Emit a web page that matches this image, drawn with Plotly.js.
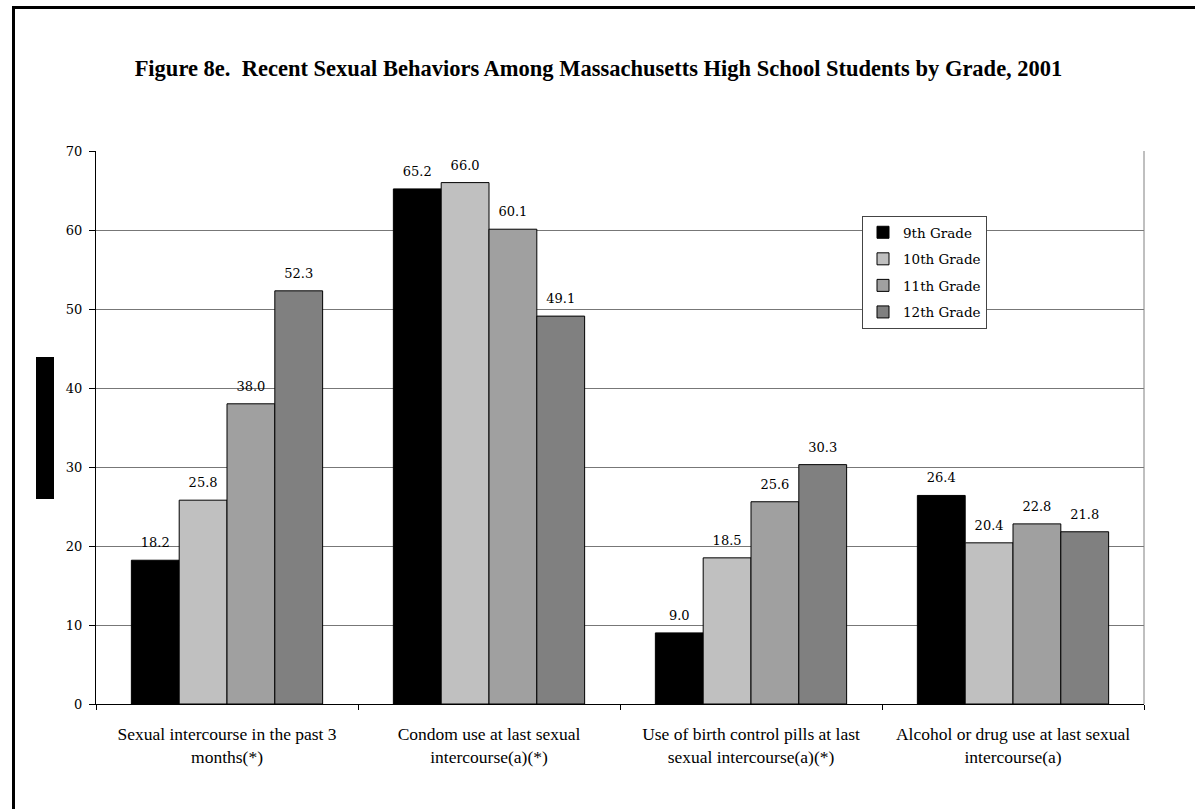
<!DOCTYPE html>
<html>
<head>
<meta charset="utf-8">
<script src="https://cdn.plot.ly/plotly-3.0.1.min.js"></script>
<style>
  html, body { margin: 0; padding: 0; background: #fff; }
  #wrap { position: relative; width: 1195px; height: 809px; overflow: hidden; }
  #chart { width: 1195px; height: 809px; }
  #frame { position: absolute; left: 12px; top: 6px; width: 1300px; height: 900px;
           border-left: 3px solid #000; border-top: 3px solid #000; pointer-events: none; }
</style>
</head>
<body>
<div id="wrap">
  <div id="chart"></div>
  <div id="frame"></div>
</div>
<script>
const categories = [
  "Sexual intercourse in the past 3<br>months(*)",
  "Condom use at last sexual<br>intercourse(a)(*)",
  "Use of birth control pills at last<br>sexual intercourse(a)(*)",
  "Alcohol or drug use at last sexual<br>intercourse(a)"
];
const seriesNames = ["9th Grade", "10th Grade", "11th Grade", "12th Grade"];
const grade9  = [18.2, 65.2, 9.0, 26.4];
const grade10 = [25.8, 66.0, 18.5, 20.4];
const grade11 = [38.0, 60.1, 25.6, 22.8];
const grade12 = [52.3, 49.1, 30.3, 21.8];
const yTicks = [0, 10, 20, 30, 40, 50, 60, 70];

const colors = ["#000000", "#c0c0c0", "#a0a0a0", "#808080"];
const values = [grade9, grade10, grade11, grade12];

const barTraces = values.map((v, i) => ({
  type: "bar",
  name: seriesNames[i],
  x: categories,
  y: v,
  legendgroup: "g" + i,
  marker: { color: colors[i], line: { color: "#000", width: 1 } },
  hoverinfo: "x+y"
}));

const labelTraces = values.map((v, i) => ({
  type: "scatter",
  mode: "markers+text",
  name: seriesNames[i] + " labels",
  x: categories,
  y: v,
  showlegend: false,
  legendgroup: "g" + i,
  marker: { size: 14, color: "rgba(0,0,0,0)" },
  text: v.map(d => d.toFixed(1)),
  textposition: "top center",
  textfont: { family: "DejaVu Serif", size: 13, color: "#000" },
  cliponaxis: false,
  hoverinfo: "skip"
}));

const layout = {
  width: 1195,
  height: 809,
  margin: { l: 96, r: 51, t: 151, b: 105 },
  paper_bgcolor: "#fff",
  plot_bgcolor: "#fff",
  barmode: "group",
  bargap: 0.27,
  bargroupgap: 0,
  scattermode: "group",
  scattergap: 0.27,
  showlegend: true,
  title: {
    text: "Figure 8e.  Recent Sexual Behaviors Among Massachusetts High School Students by Grade, 2001",
    font: { family: "Liberation Serif", size: 22.5, color: "#000", weight: "bold" },
    x: 598.5 / 1195, xref: "container", xanchor: "center",
    y: 1 - 68 / 809, yref: "container", yanchor: "middle"
  },
  xaxis: {
    type: "category",
    showline: true, linecolor: "#000", linewidth: 1,
    ticks: "outside", ticklen: 5, tickcolor: "#000", tickson: "boundaries",
    tickfont: { family: "Liberation Serif", size: 17.5, color: "#000" },
    ticklabelstandoff: 14,
    showgrid: false, zeroline: false, fixedrange: true
  },
  yaxis: {
    range: [0, 70],
    tickvals: yTicks,
    ticktext: yTicks.map(String),
    showline: true, linecolor: "#000", linewidth: 1,
    ticks: "outside", ticklen: 6, tickcolor: "#000",
    tickfont: { family: "DejaVu Serif", size: 13, color: "#000" },
    ticklabelstandoff: 4,
    showgrid: true, gridcolor: "#777", gridwidth: 1,
    zeroline: false, fixedrange: true
  },
  legend: {
    x: (862 - 96) / 1048, xanchor: "left",
    y: (704 - 216) / 553, yanchor: "top",
    bgcolor: "#fff", bordercolor: "#444", borderwidth: 1,
    font: { family: "DejaVu Serif", size: 13.5, color: "#000" },
    tracegroupgap: 6,
    itemclick: false, itemdoubleclick: false
  },
  shapes: [
    { type: "line", xref: "paper", yref: "paper", x0: 1, x1: 1, y0: 0, y1: 1,
      line: { color: "#808080", width: 1 } },
    { type: "rect", xref: "paper", yref: "paper",
      x0: (36 - 96) / 1048, x1: (54 - 96) / 1048,
      y0: (704 - 499) / 553, y1: (704 - 357) / 553,
      fillcolor: "#000", line: { width: 0 } }
  ]
};

Plotly.newPlot("chart", barTraces.concat(labelTraces), layout, { displayModeBar: false, staticPlot: true });
</script>
</body>
</html>
